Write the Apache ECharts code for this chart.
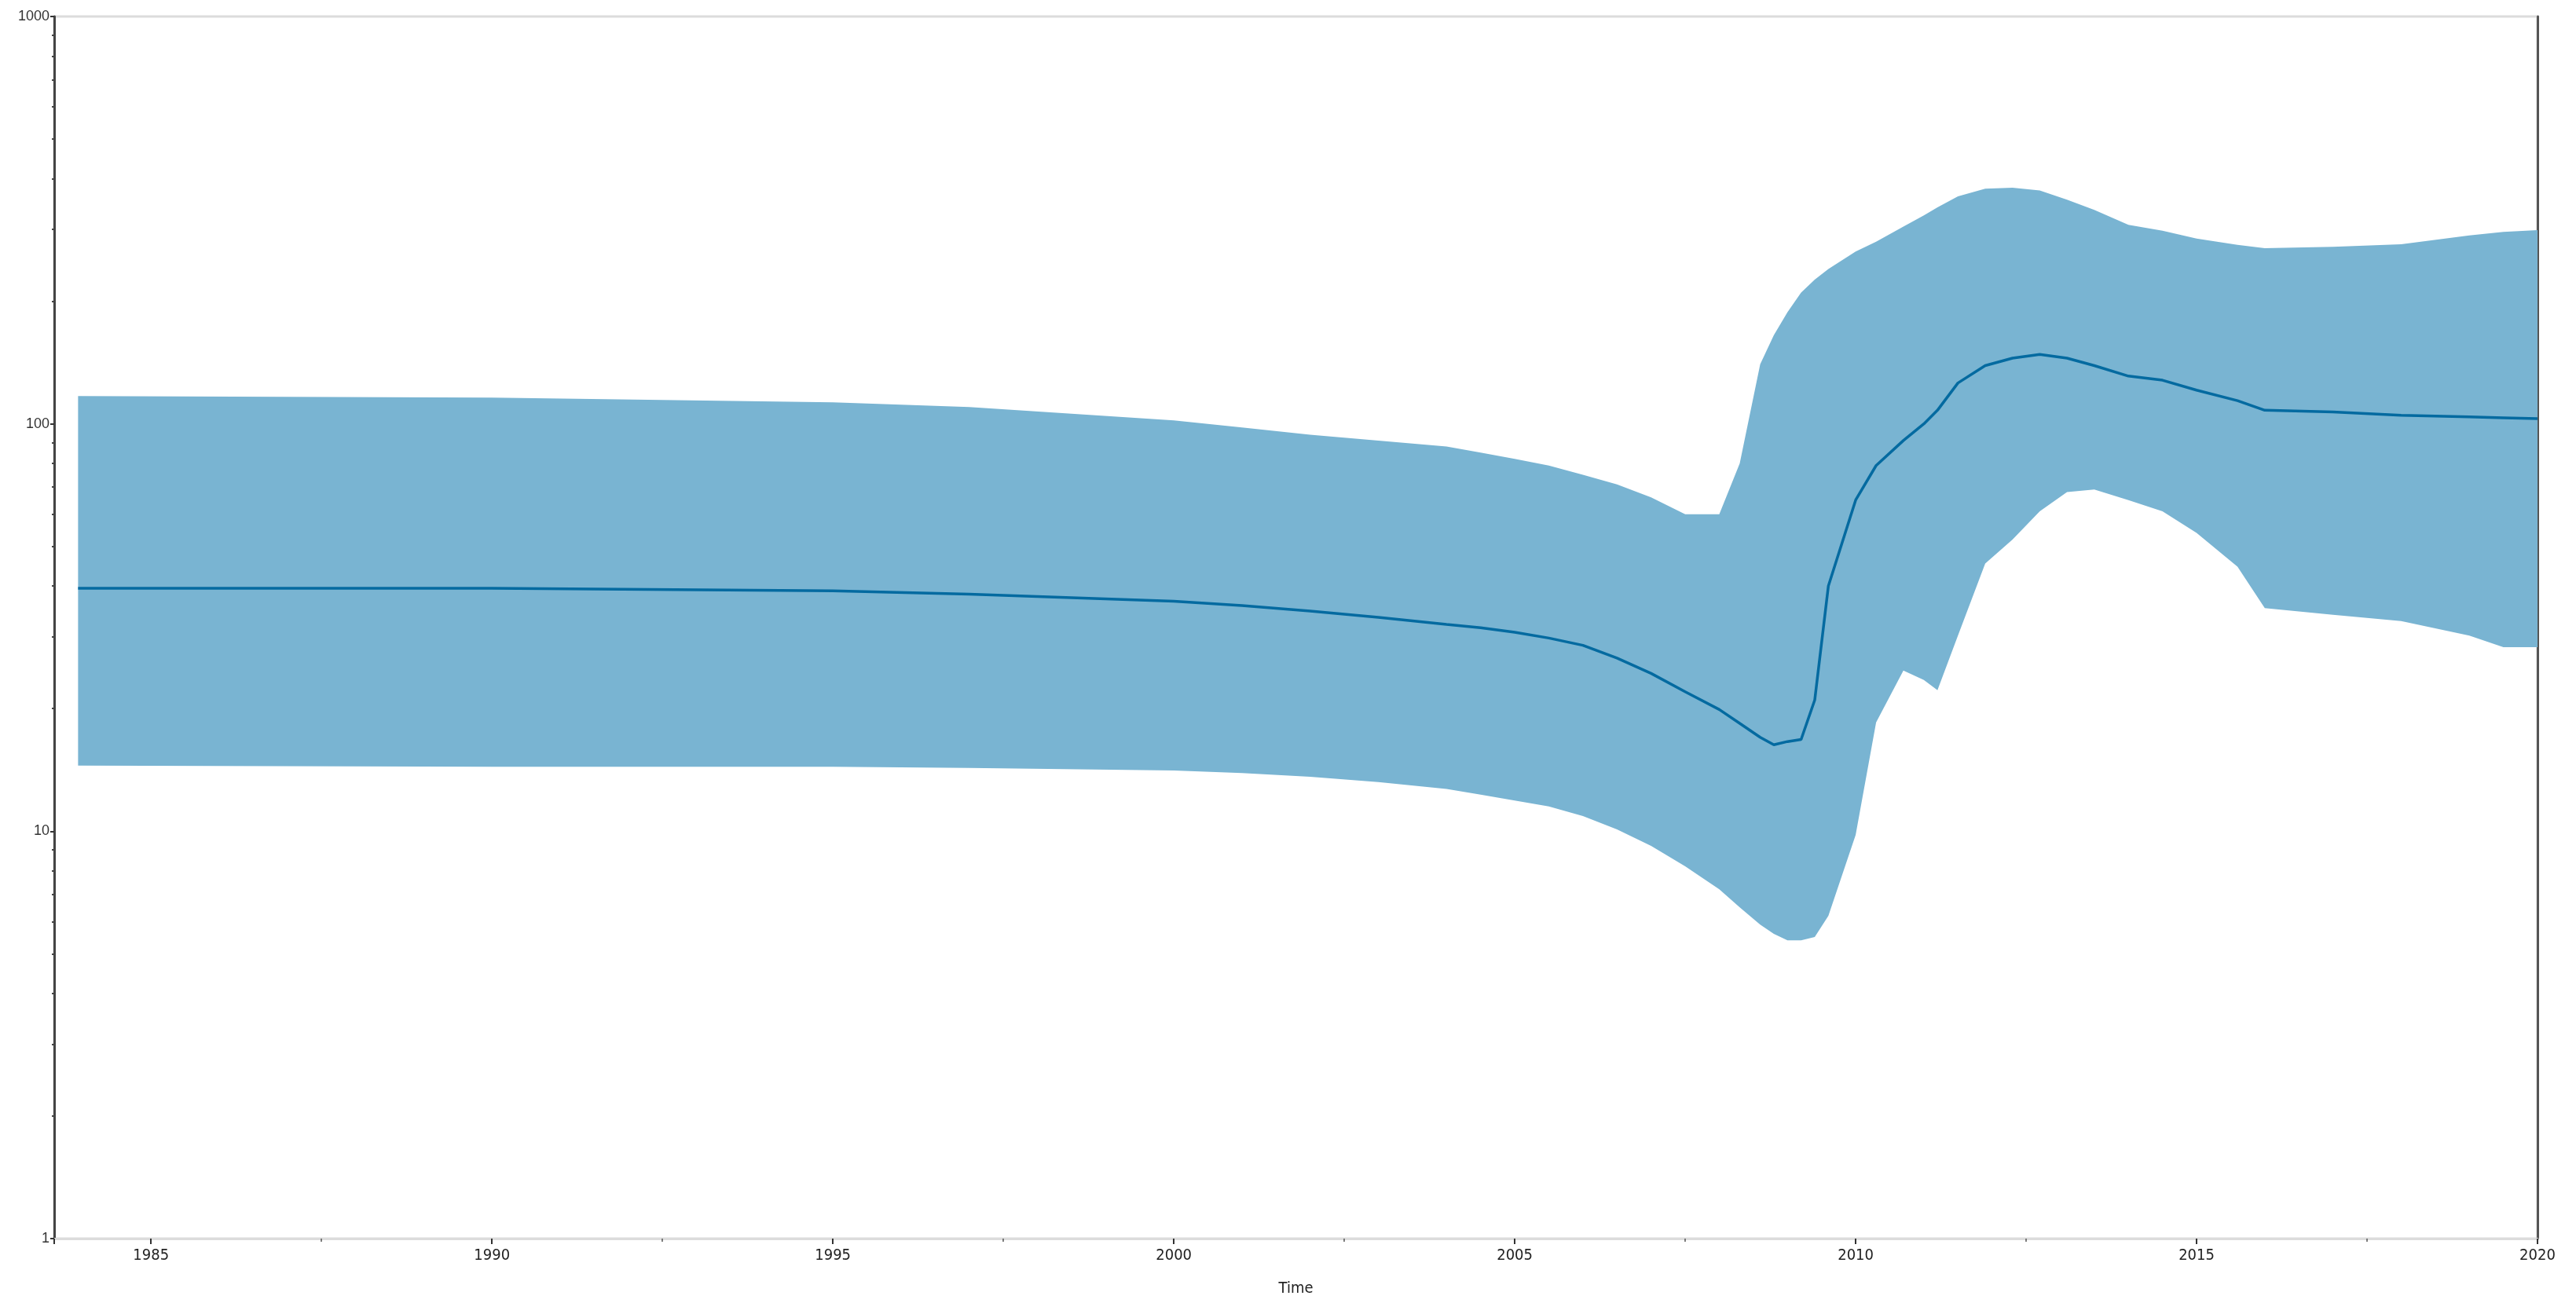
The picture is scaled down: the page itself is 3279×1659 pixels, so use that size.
<!DOCTYPE html>
<html>
<head>
<meta charset="utf-8">
<script src="https://cdn.jsdelivr.net/npm/echarts@6/dist/echarts.min.js"></script>
<style>
html,body{margin:0;padding:0;background:#fff;}
#chart{width:3279px;height:1659px;}
</style>
</head>
<body>
<div id="chart"></div>
<script>
var years = [1983.93, 1990, 1995, 1997, 2000, 2001, 2002, 2003, 2004, 2004.5, 2005, 2005.5, 2006, 2006.5, 2007, 2007.5, 2008, 2008.3, 2008.6, 2008.8, 2009, 2009.2, 2009.4, 2009.6, 2010, 2010.3, 2010.7, 2011, 2011.2, 2011.5, 2011.9, 2012.3, 2012.7, 2013.1, 2013.5, 2014, 2014.5, 2015, 2015.6, 2016, 2017, 2018, 2019, 2019.5, 2020];
var upper = [117, 116, 113, 110, 102, 98, 94, 91, 88, 85, 82, 79, 75, 71, 66, 60, 60, 80, 140, 165, 188, 210, 226, 240, 265, 280, 305, 325, 340, 362, 378, 380, 374, 355, 335, 308, 298, 285, 275, 270, 272, 276, 290, 296, 299];
var mean = [39.5, 39.5, 38.9, 38.2, 36.7, 35.8, 34.7, 33.5, 32.2, 31.6, 30.8, 29.8, 28.6, 26.6, 24.4, 22, 19.9, 18.4, 17.0, 16.3, 16.6, 16.8, 21, 40, 65, 79, 91, 100, 108, 126, 139, 145, 148, 145, 139, 131, 128, 121, 114, 108, 107, 105, 104, 103.5, 103];
var lower = [14.5, 14.4, 14.4, 14.3, 14.1, 13.9, 13.6, 13.2, 12.7, 12.3, 11.9, 11.5, 10.9, 10.1, 9.2, 8.2, 7.2, 6.5, 5.9, 5.6, 5.4, 5.4, 5.5, 6.2, 9.8, 18.5, 24.8, 23.5, 22.2, 30.2, 45.4, 52, 61, 68, 69, 65, 61, 54, 44.6, 35.3, 34, 32.8, 30.2, 28.3, 28.3];
var xMin = 1983.58, xMax = 2020;
var yTicks = [1, 10, 100, 1000];

var bandData = years.map(function (x, i) { return [x, lower[i], upper[i]]; });
var meanData = years.map(function (x, i) { return [x, mean[i]]; });

function renderBand(params, api) {
  if (params.dataIndex !== 0) return null;
  var pts = [];
  for (var i = 0; i < years.length; i++) pts.push(api.coord([years[i], upper[i]]));
  for (var j = years.length - 1; j >= 0; j--) pts.push(api.coord([years[j], lower[j]]));
  return {
    type: 'polygon',
    shape: { points: pts },
    style: { fill: '#79b4d2', stroke: null }
  };
}

var chart = echarts.init(document.getElementById('chart'));
chart.setOption({
  animation: false,
  backgroundColor: '#ffffff',
  grid: {
    left: 69, right: 49, top: 21, bottom: 82,
    show: true, borderColor: '#dcdcdc', borderWidth: 3, backgroundColor: 'transparent'
  },
  xAxis: {
    type: 'value', min: xMin, max: xMax, minInterval: 5, maxInterval: 5,
    name: 'Time', nameLocation: 'middle', nameGap: 54,
    nameTextStyle: { fontFamily: 'Liberation Sans Narrow, DejaVu Sans Condensed, sans-serif', fontSize: 20, color: '#222' },
    axisLine: { show: true, lineStyle: { color: '#dcdcdc', width: 3 } },
    axisTick: { show: true, length: 7, lineStyle: { color: '#333', width: 2 } },
    minorTick: { show: true, splitNumber: 2, length: 4, lineStyle: { color: '#555', width: 1.5 } },
    splitLine: { show: false },
    axisLabel: {
      margin: 12, fontSize: 20, color: '#222',
      fontFamily: 'Liberation Sans Narrow, DejaVu Sans Condensed, sans-serif',
      formatter: function (v) { return (Math.abs(v % 5) < 1e-6) ? String(Math.round(v)) : ''; }
    }
  },
  yAxis: [{
    type: 'log', logBase: 10, min: 1, max: 1000, position: 'left',
    axisLine: { show: true, lineStyle: { color: '#444', width: 3 } },
    axisTick: { show: true, length: 5, lineStyle: { color: '#333', width: 2 } },
    minorTick: { show: true, splitNumber: 9, length: 3, lineStyle: { color: '#444', width: 2 } },
    splitLine: { show: false },
    axisLabel: {
      margin: 6, fontSize: 18, color: '#333',
      fontFamily: 'Liberation Sans, Arial, sans-serif',
      formatter: function (v) { return yTicks.indexOf(Math.round(v)) >= 0 ? String(Math.round(v)) : ''; }
    }
  }, {
    type: 'log', logBase: 10, min: 1, max: 1000, position: 'right',
    axisLine: { show: true, onZero: false, lineStyle: { color: '#555', width: 3 } },
    axisTick: { show: false }, axisLabel: { show: false }, splitLine: { show: false }
  }],
  series: [{
    name: 'band', type: 'custom', data: bandData,
    renderItem: renderBand, silent: true, z: 1,
    encode: { x: 0, y: [1, 2] }
  }, {
    name: 'mean', type: 'line', data: meanData,
    symbol: 'none', lineStyle: { color: '#046aa0', width: 3.5 }, z: 3
  }]
});
</script>
</body>
</html>
